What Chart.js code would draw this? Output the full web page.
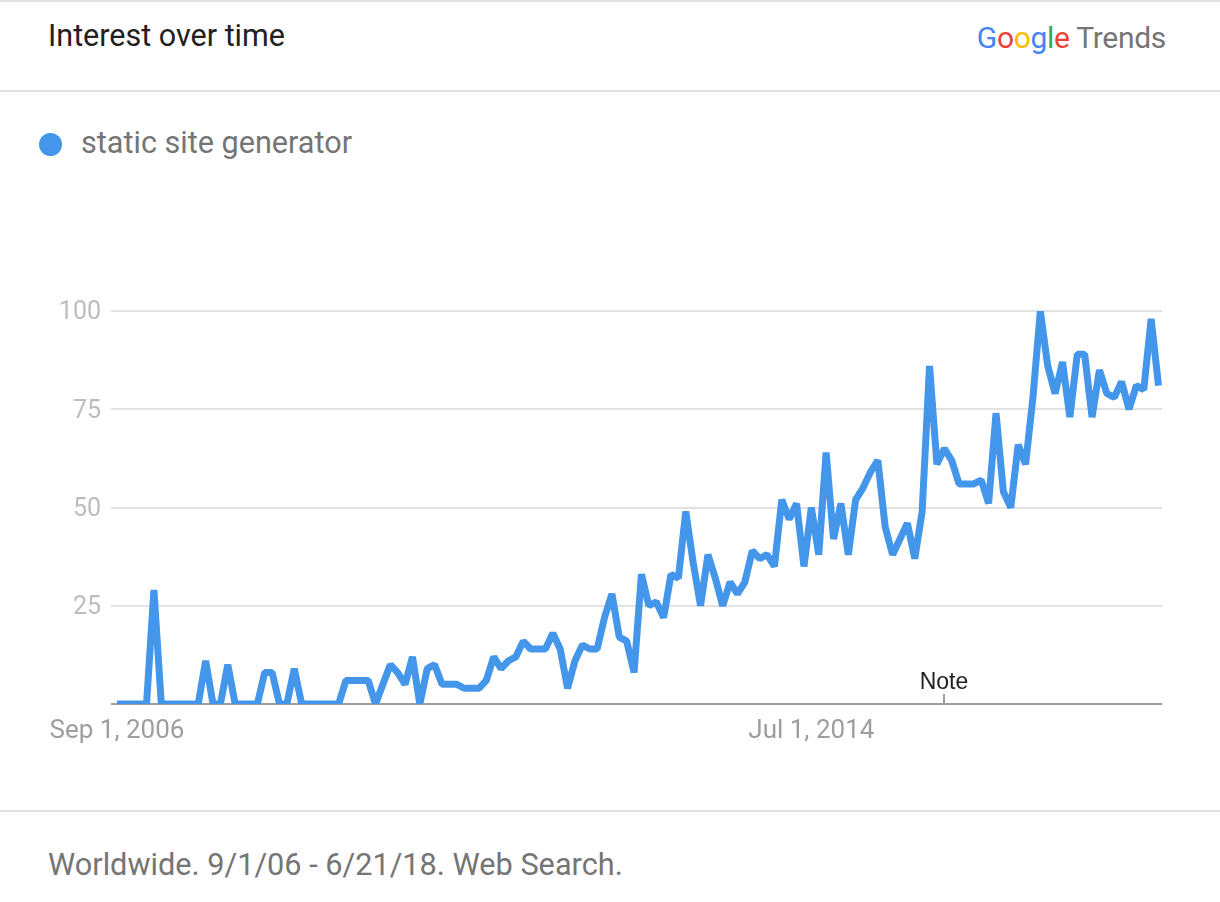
<!DOCTYPE html>
<html lang="en">
<head>
    <meta charset="UTF-8">
    <title>Interest over time - static site generator</title>
    <style>
        body {
            margin: 0;
            padding: 0;
            width: 1220px;
            height: 902px;
            background: #ffffff;
            font-family: Roboto, Arial, sans-serif;
            position: relative;
            overflow: hidden;
        }
        .rule {
            position: absolute;
            left: 0;
            width: 1220px;
            height: 2px;
            background: #e0e0e0;
        }
        .title {
            position: absolute;
            left: 48px;
            top: 16px;
            line-height: 40px;
            font-size: 30.5px;
            color: #212121;
        }
        .logo {
            position: absolute;
            right: 54px;
            top: 18px;
            line-height: 40px;
            font-size: 30px;
            color: #757575;
            letter-spacing: -0.3px;
        }
        .legend {
            position: absolute;
            left: 39px;
            top: 123px;
            line-height: 40px;
            font-size: 30.6px;
            color: #757575;
        }
        .legend .dot {
            display: inline-block;
            width: 23px;
            height: 23px;
            border-radius: 50%;
            background: #4496ea;
            vertical-align: -3px;
            margin-right: 19px;
        }
        .footer {
            position: absolute;
            left: 48px;
            top: 845px;
            line-height: 40px;
            font-size: 30.7px;
            color: #757575;
        }
        #chartBox {
            position: absolute;
            left: 0;
            top: 270px;
            width: 1220px;
            height: 500px;
        }
    </style>
</head>
<body>
    <div class="rule" style="top:0;"></div>
    <div class="title">Interest over time</div>
    <div class="logo"><span style="color:#4285f4">G</span><span style="color:#ea4335">o</span><span style="color:#fbbc05">o</span><span style="color:#4285f4">g</span><span style="color:#34a853">l</span><span style="color:#ea4335">e</span> Trends</div>
    <div class="rule" style="top:90px;"></div>

    <div class="legend"><span class="dot"></span>static site generator</div>

    <div id="chartBox"><canvas id="trendChart"></canvas></div>

    <div class="rule" style="top:810px;"></div>
    <div class="footer">Worldwide. 9/1/06 - 6/21/18. Web Search.</div>

    <script src="https://cdn.jsdelivr.net/npm/chart.js"></script>
    <script>
        // monthly interest, Sep 2006 .. Jun 2018
        const seriesName = 'static site generator';
        const interest = [
            0, 0, 0, 0, 0, 29, 0, 0, 0, 0, 0, 0,          // Sep 06 - Aug 07
            11, 0, 0, 10, 0, 0, 0, 0, 8, 8, 0, 0,         // Sep 07 - Aug 08
            9, 0, 0, 0, 0, 0, 0, 6, 6, 6, 6, 0,           // Sep 08 - Aug 09
            5, 10, 8, 5, 12, 0, 9, 10, 5, 5, 5, 4,        // Sep 09 - Aug 10
            4, 4, 6, 12, 9, 11, 12, 16, 14, 14, 14, 18,   // Sep 10 - Aug 11
            14, 4, 11, 15, 14, 14, 22, 28, 17, 16, 8, 33, // Sep 11 - Aug 12
            25, 26, 22, 33, 32, 49, 36, 25, 38, 32, 25, 31, // Sep 12 - Aug 13
            28, 31, 39, 37, 38, 35, 52, 47, 51, 35, 50, 38, // Sep 13 - Aug 14
            64, 42, 51, 38, 52, 55, 59, 62, 45, 38, 42, 46, // Sep 14 - Aug 15
            37, 49, 86, 61, 65, 62, 56, 56, 56, 57, 51, 74, // Sep 15 - Aug 16
            54, 50, 66, 61, 78, 100, 86, 79, 87, 73, 89, 89, // Sep 16 - Aug 17
            73, 85, 79, 78, 82, 75, 81, 80, 98, 81          // Sep 17 - Jun 18
        ];
        const firstYear = 2006;
        const firstMonth = 8; // September (0-based)
        const monthNames = ['Jan', 'Feb', 'Mar', 'Apr', 'May', 'Jun', 'Jul', 'Aug', 'Sep', 'Oct', 'Nov', 'Dec'];
        const months = interest.map((v, i) => {
            const m = firstMonth + i;
            return monthNames[m % 12] + ' ' + (firstYear + Math.floor(m / 12));
        });

        const xTickMonths = ['Sep 2006', 'Jul 2014'];
        const xTickText = ['Sep 1, 2006', 'Jul 1, 2014'];
        const yTicks = [0, 25, 50, 75, 100];
        const noteMonth = 'Jan 2016';
        const noteText = 'Note';

        const xTickIdx = xTickMonths.map(m => months.indexOf(m));

        const notePlugin = {
            id: 'notePlugin',
            afterDatasetsDraw(chart) {
                const ctx = chart.ctx;
                const xs = chart.scales.x;
                const bottom = chart.chartArea.bottom;
                const x = Math.round(xs.getPixelForValue(months.indexOf(noteMonth)));
                ctx.save();
                ctx.strokeStyle = '#9e9e9e';
                ctx.lineWidth = 2;
                ctx.beginPath();
                ctx.moveTo(x, bottom - 10);
                ctx.lineTo(x, bottom);
                ctx.stroke();
                ctx.fillStyle = '#222222';
                ctx.font = '23px "Liberation Sans", Arial, sans-serif';
                ctx.textAlign = 'center';
                ctx.textBaseline = 'middle';
                ctx.fillText(noteText, x, bottom - 21);
                ctx.restore();
            }
        };

        const chart = new Chart(document.getElementById('trendChart'), {
            type: 'line',
            data: {
                datasets: [{
                    label: seriesName,
                    data: interest.map((v, i) => ({ x: i, y: v })),
                    borderColor: '#4496ea',
                    backgroundColor: '#4496ea',
                    borderWidth: 7,
                    borderJoinStyle: 'bevel',
                    pointRadius: 0,
                    tension: 0,
                    fill: false
                }]
            },
            options: {
                responsive: true,
                maintainAspectRatio: false,
                animation: false,
                layout: {
                    padding: { top: 41, right: 58, left: 0, bottom: 0 }
                },
                plugins: {
                    legend: { display: false },
                    tooltip: {
                        callbacks: {
                            title: items => months[items[0].parsed.x]
                        }
                    }
                },
                scales: {
                    x: {
                        type: 'linear',
                        min: -0.81,
                        max: 141.47,
                        afterBuildTicks: scale => {
                            scale.ticks = xTickIdx.map(v => ({ value: v }));
                        },
                        afterFit: scale => {
                            scale.height = 66;
                        },
                        grid: { display: false, drawTicks: false },
                        border: { display: false },
                        ticks: {
                            autoSkip: false,
                            maxRotation: 0,
                            padding: 12,
                            color: '#9e9e9e',
                            font: { family: 'Roboto', size: 26 },
                            callback: value => {
                                const k = xTickIdx.indexOf(value);
                                return k >= 0 ? xTickText[k] : '';
                            }
                        }
                    },
                    y: {
                        min: 0,
                        max: 100,
                        afterBuildTicks: scale => {
                            scale.ticks = yTicks.map(v => ({ value: v }));
                        },
                        afterFit: scale => {
                            scale.width = 111;
                        },
                        grid: {
                            drawTicks: false,
                            lineWidth: 2,
                            color: ctx => ctx.tick && ctx.tick.value === 0 ? '#9e9e9e' : '#e2e2e2'
                        },
                        border: { display: false },
                        ticks: {
                            padding: 10,
                            labelOffset: 2,
                            color: '#bdbdbd',
                            font: { family: 'Roboto', size: 25 },
                            callback: value => value === 0 ? '' : value
                        }
                    }
                }
            },
            plugins: [notePlugin]
        });
    </script>
</body>
</html>
